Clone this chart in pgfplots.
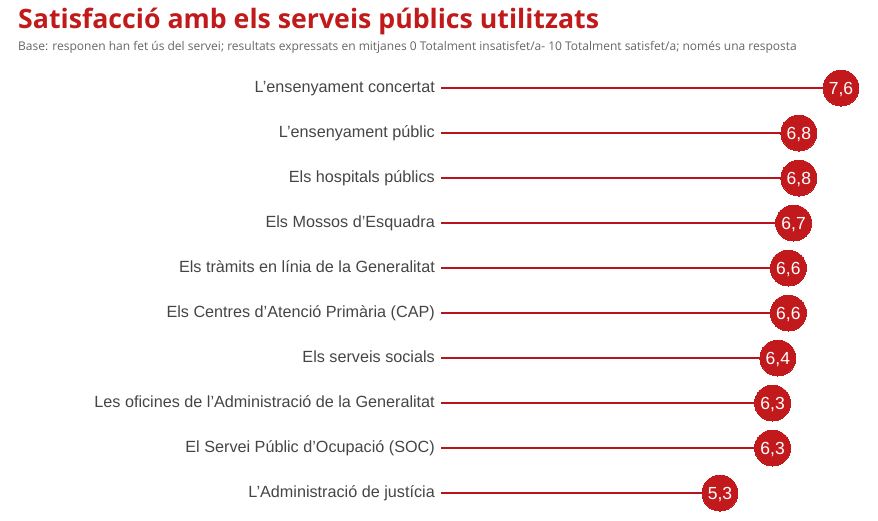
\documentclass[border=0pt]{standalone}
\usepackage{pgfplots}
\pgfplotsset{compat=1.18}
\usepackage{fontspec}
\setmainfont{Liberation Sans}
\newfontfamily\titlefont{Open Sans}
\definecolor{titlered}{HTML}{C01A1A}
\definecolor{linered}{HTML}{B8141B}
\definecolor{circred}{HTML}{C21A1C}
\definecolor{labgray}{HTML}{454545}
\definecolor{subgray}{HTML}{666666}
\begin{document}
\begin{tikzpicture}[x=1pt,y=1pt]
\useasboundingbox (0,0) rectangle (878,-520);
\node[anchor=base west, inner sep=0pt, text=titlered, font=\titlefont\bfseries\fontsize{26.7}{28}\selectfont] at (18,-28) {Satisfacció amb els serveis públics utilitzats};
\node[anchor=base west, inner sep=0pt, text=subgray, font=\titlefont\fontsize{12}{14}\selectfont] at (18,-50) {Base: responen han fet ús del servei; resultats expressats en mitjanes 0 Totalment insatisfet/a- 10 Totalment satisfet/a; només una resposta};
\begin{axis}[
  scale only axis,
  width=400pt, height=405pt,
  at={(441pt,-493pt)}, anchor=south west,
  xmin=0, xmax=7.6, ymin=0, ymax=9,
  y dir=reverse,
  clip=false,
  axis line style={draw=none},
  major tick length=0pt,
  xtick=\empty,
  ytick={0,...,9},
  yticklabels={L’ensenyament concertat,L’ensenyament públic,Els hospitals públics,Els Mossos d’Esquadra,Els tràmits en línia de la Generalitat,Els Centres d’Atenció Primària (CAP),Els serveis socials,Les oficines de l’Administració de la Generalitat,El Servei Públic d’Ocupació (SOC),L’Administració de justícia},
  yticklabel style={font=\fontsize{16.2}{17}\selectfont, text=labgray, inner sep=0pt, text height=11.5pt, text depth=3pt},
  yticklabel shift=6pt,
  /pgf/number format/.cd, use comma, fixed, fixed zerofill, precision=1, assume math mode=true,
]
\addplot[xcomb, draw=linered, line width=2.8pt, mark=*, mark size=18pt,
  mark options={fill=circred, draw=circred, line width=0pt},
  point meta=x, nodes near coords,
  nodes near coords style={anchor=center, inner sep=0pt, text=white, font=\fontsize{17.5}{18}\selectfont, text height=12.3pt, text depth=0pt}]
  table {
x y
7.6 0
6.8 1
6.8 2
6.7 3
6.6 4
6.6 5
6.4 6
6.3 7
6.3 8
5.3 9
};
\end{axis}
\end{tikzpicture}
\end{document}
